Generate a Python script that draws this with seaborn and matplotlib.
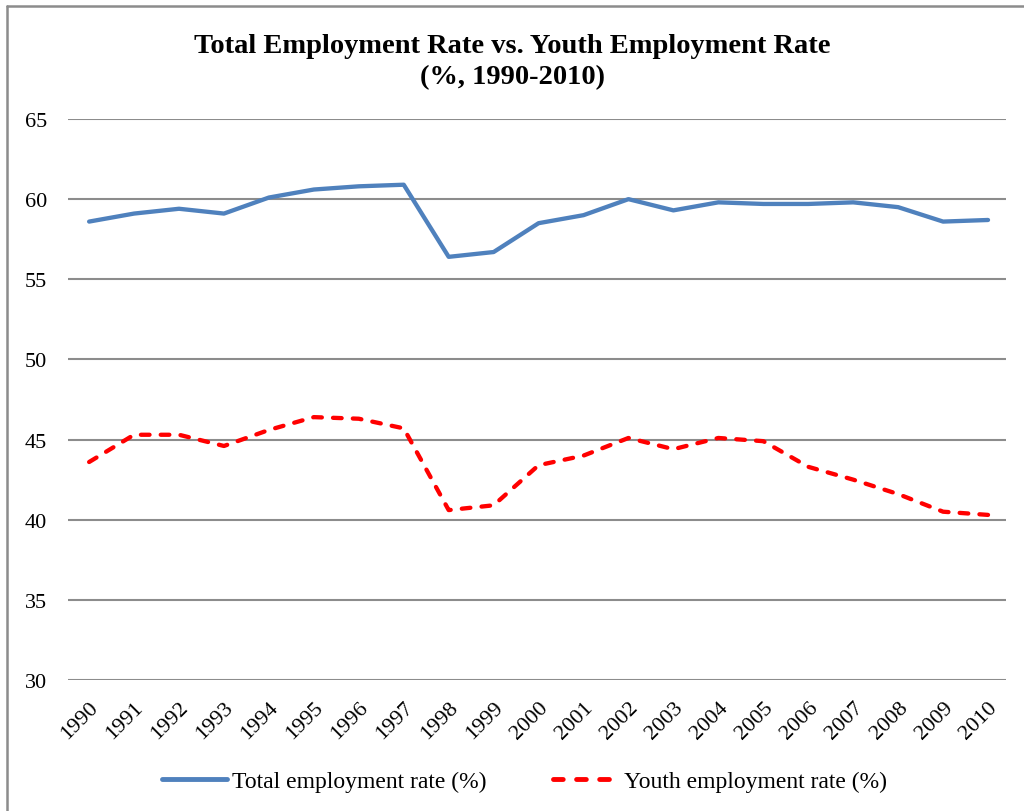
import matplotlib
matplotlib.use("Agg")
import matplotlib.pyplot as plt
from matplotlib.lines import Line2D
from matplotlib.transforms import ScaledTranslation
import seaborn as sns
import pandas as pd

years = [str(y) for y in range(1990, 2011)]
total_rate = [58.6, 59.1, 59.4, 59.1, 60.1, 60.6, 60.8, 60.9, 56.4, 56.7,
              58.5, 59.0, 60.0, 59.3, 59.8, 59.7, 59.7, 59.8, 59.5, 58.6, 58.7]
youth_rate = [43.6, 45.3, 45.3, 44.6, 45.6, 46.4, 46.3, 45.7, 40.6, 40.9,
              43.4, 44.0, 45.1, 44.4, 45.1, 44.9, 43.3, 42.5, 41.6, 40.5, 40.3]
series_names = ["Total employment rate (%)", "Youth employment rate (%)"]
y_ticks = [30, 35, 40, 45, 50, 55, 60, 65]
title_lines = ["Total Employment Rate vs. Youth Employment Rate", "(%, 1990-2010)"]

sns.set_theme(style="white")
plt.rcParams["font.family"] = ["Liberation Serif", "DejaVu Serif"]
plt.rcParams["text.color"] = "black"

df = pd.DataFrame({
    "year": years * 2,
    "pos": list(range(len(years))) * 2,
    "rate": total_rate + youth_rate,
    "series": [series_names[0]] * len(years) + [series_names[1]] * len(years),
})

W, H = 1024, 812
fig = plt.figure(figsize=(W / 100, H / 100), dpi=100)
ax = fig.add_axes([68 / W, 1 - 681 / H, (1006 - 68) / W, (681 - 120) / H])

colors = {series_names[0]: "#4F81BD", series_names[1]: "#FF0000"}

# horizontal gridlines behind the series
for t in y_ticks:
    ax.axhline(t, color="#8C8C8C", lw=1.5, zorder=0)

sns.lineplot(data=df[df.series == series_names[0]], x="pos", y="rate",
             color=colors[series_names[0]], lw=3.1, ax=ax, legend=False,
             solid_capstyle="round", solid_joinstyle="round")
sns.lineplot(data=df[df.series == series_names[1]], x="pos", y="rate",
             color=colors[series_names[1]], lw=3.1, ax=ax, legend=False)
red_line = ax.lines[-1]
red_line.set_dashes((2.0, 2.6))
red_line.set_dash_capstyle("round")

ax.set_ylim(30, 65)
ax.set_xlim(-0.47, 20.4)
ax.set_yticks(y_ticks)
ax.set_yticklabels([str(t) for t in y_ticks], fontsize=16, color="black")
ax.set_xticks(range(len(years)))
ax.set_xticklabels(years, rotation=45, ha="right", va="top",
                   rotation_mode="anchor", fontsize=16, color="black")
shift = ScaledTranslation(-5 / 100, 0, fig.dpi_scale_trans)
for lab in ax.get_xticklabels():
    lab.set_transform(lab.get_transform() + shift)
ax.tick_params(axis="y", length=0, pad=15)
ax.tick_params(axis="x", length=0, pad=13)
ax.set_xlabel("")
ax.set_ylabel("")
for s in ax.spines.values():
    s.set_visible(False)

fig.text(0.5, 1 - 53 / H, title_lines[0], ha="center", va="baseline",
         fontsize=20.5, fontweight="bold", color="black")
fig.text(0.5, 1 - 84 / H, title_lines[1], ha="center", va="baseline",
         fontsize=20.5, fontweight="bold", color="black")

handles = [
    Line2D([], [], color=colors[series_names[0]], lw=3.5, solid_capstyle="round"),
    Line2D([], [], color=colors[series_names[1]], lw=3.5, dashes=(2.0, 2.75),
           dash_capstyle="round"),
]
fig.legend(handles, series_names, loc="center", ncol=2,
           bbox_to_anchor=(0.512, 1 - 782 / H), frameon=False,
           fontsize=17, handlelength=2.75, handletextpad=0.25,
           columnspacing=2.8)

# chart frame along the top and left edge
fig.add_artist(Line2D([6.5 / W, 1], [1 - 6.5 / H] * 2, color="#8C8C8C",
                      lw=1.8, transform=fig.transFigure))
fig.add_artist(Line2D([6.5 / W] * 2, [0, 1 - 6.5 / H], color="#8C8C8C",
                      lw=1.8, transform=fig.transFigure))

fig.savefig("out.png", dpi=100, facecolor="white")
